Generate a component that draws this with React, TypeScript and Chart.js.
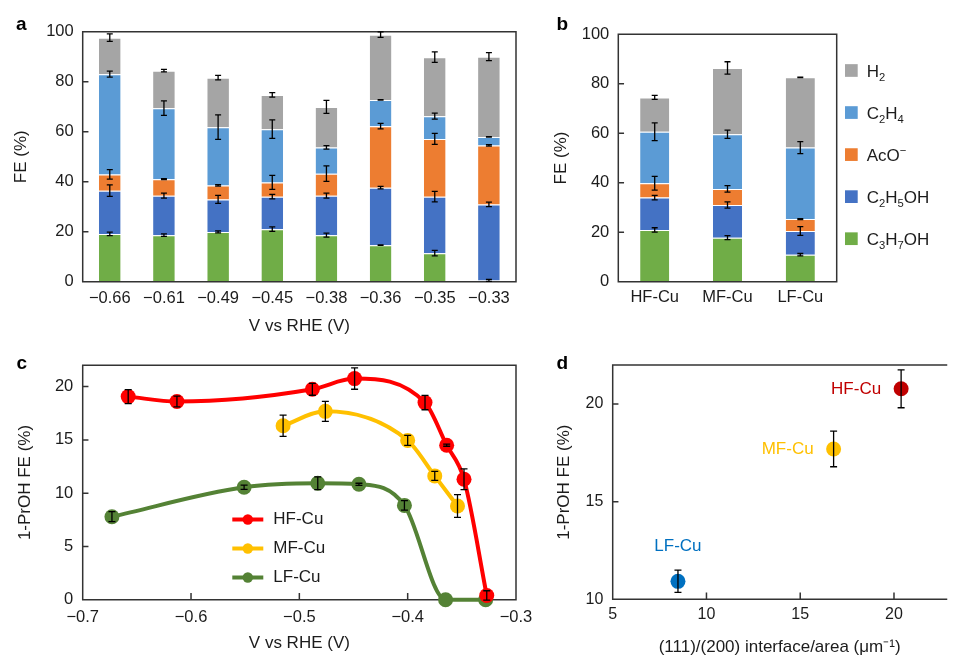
import React, { useEffect, useRef } from 'react';
import { Chart, registerables } from 'chart.js';

Chart.register(...registerables);

const FONT = '"Liberation Sans", Arial, Helvetica, sans-serif';
const INK = '#1c1c1c';
const AXIS = '#333333';
Chart.defaults.font.family = FONT;
Chart.defaults.color = INK;

// ---------------- Panel a : FE vs potential (stacked) ----------------
const potentialLabelsA = ['−0.66', '−0.61', '−0.49', '−0.45', '−0.38', '−0.36', '−0.35', '−0.33'];
const propanolA = [19.1, 18.6, 19.9, 21.0, 18.6, 14.6, 11.4, 0.5];
const ethanolA = [17.3, 15.8, 13.0, 13.0, 15.8, 23.0, 22.6, 30.4];
const acetateA = [6.5, 6.6, 5.6, 5.7, 8.8, 24.6, 23.1, 23.6];
const ethyleneA = [40.1, 28.4, 23.3, 21.3, 10.5, 10.5, 9.1, 3.4];
const hydrogenA = [14.6, 15.0, 19.8, 13.7, 16.2, 26.1, 23.6, 32.1];
const propanolErrA = [0.7, 0.5, 0.4, 0.9, 0.8, 0.1, 1.1, 0.4];
const ethanolErrA = [2.3, 1.0, 1.6, 0.9, 1.0, 0.5, 2.1, 0.9];
const acetateErrA = [1.9, 0.2, 0.3, 2.8, 3.1, 1.1, 2.2, 0.3];
const ethyleneErrA = [1.2, 2.9, 4.9, 3.7, 0.7, 0.1, 1.2, 0.1];
const hydrogenErrA = [1.5, 0.5, 0.9, 0.9, 2.6, 1.1, 2.1, 1.6];

// ---------------- Panel b : FE by catalyst (stacked) ----------------
const catalystLabelsB = ['HF-Cu', 'MF-Cu', 'LF-Cu'];
const propanolB = [20.9, 17.8, 10.9];
const ethanolB = [13.1, 13.2, 9.6];
const acetateB = [5.8, 6.5, 4.8];
const ethyleneB = [20.8, 22.1, 28.9];
const hydrogenB = [13.9, 26.8, 28.4];
const propanolErrB = [0.9, 0.8, 0.5];
const ethanolErrB = [0.9, 1.3, 1.8];
const acetateErrB = [2.8, 1.3, 0.2];
const ethyleneErrB = [3.6, 1.7, 2.4];
const hydrogenErrB = [0.8, 2.5, 0.1];

// products, bottom of stack first
const productNames = ['C3H7OH', 'C2H5OH', 'AcO-', 'C2H4', 'H2'];
const productColors = ['#70AD47', '#4472C4', '#ED7D31', '#5B9BD5', '#A5A5A5'];

// ---------------- Panel c : 1-PrOH FE vs potential ----------------
const seriesNamesC = ['HF-Cu', 'MF-Cu', 'LF-Cu'];
const seriesColorsC = ['#FF0000', '#FFC000', '#548235'];
const hfPotentialC = [-0.658, -0.613, -0.488, -0.449, -0.384, -0.364, -0.348, -0.327];
const hfPropanolC = [19.06, 18.6, 19.75, 20.75, 18.5, 14.5, 11.3, 0.4];
const hfErrC = [0.66, 0.5, 0.56, 1.0, 0.67, 0.1, 0.97, 0.44];
const mfPotentialC = [-0.515, -0.476, -0.4, -0.375, -0.354];
const mfPropanolC = [16.33, 17.68, 14.95, 11.62, 8.79];
const mfErrC = [1.0, 0.94, 0.47, 0.42, 1.07];
const lfPotentialC = [-0.673, -0.551, -0.483, -0.445, -0.403, -0.365, -0.328];
const lfPropanolC = [7.79, 10.55, 10.93, 10.83, 8.85, 0, 0];
const lfErrC = [0.47, 0.2, 0.6, 0.1, 0.44, 0, 0];
const propanolTicksC = [0, 5, 10, 15, 20];

// ---------------- Panel d : 1-PrOH FE vs interface density ----------------
const catalystNamesD = ['HF-Cu', 'MF-Cu', 'LF-Cu'];
const catalystColorsD = ['#C00000', '#FFC000', '#0070C0'];
const interfaceDensityD = [20.38, 16.78, 8.48];
const propanolD = [20.78, 17.7, 10.92];
const propanolErrD = [0.97, 0.91, 0.57];
const interfaceTicksD = [5, 10, 15, 20];
const propanolTicksD = [10, 15, 20];

// ---------------- helpers ----------------
function fixedSize(size: number, horizontal: boolean) {
  return (s: any) => {
    if (horizontal) s.height = size;
    else s.width = size;
    s.paddingLeft = 0;
    s.paddingRight = 0;
    s.paddingTop = 0;
    s.paddingBottom = 0;
  };
}

function fixedTicks(values: number[]) {
  return (s: any) => {
    s.ticks = values.map((v) => ({ value: v }));
  };
}

function errBar(ctx: CanvasRenderingContext2D, x: number, y1: number, y2: number, cap: number) {
  ctx.beginPath();
  ctx.moveTo(x, y1);
  ctx.lineTo(x, y2);
  ctx.moveTo(x - cap, y1);
  ctx.lineTo(x + cap, y1);
  ctx.moveTo(x - cap, y2);
  ctx.lineTo(x + cap, y2);
  ctx.stroke();
}

function drawStackErrors(chart: any, errs: number[][]) {
  const ctx = chart.ctx as CanvasRenderingContext2D;
  const ys = chart.scales.y;
  const ds = chart.data.datasets;
  ctx.save();
  ctx.strokeStyle = '#000';
  ctx.lineWidth = 1.3;
  ds.forEach((d: any, k: number) => {
    const meta = chart.getDatasetMeta(k);
    d.data.forEach((_v: number, i: number) => {
      const e = errs[k][i];
      if (!e) return;
      let cum = 0;
      for (let j = 0; j <= k; j++) cum += ds[j].data[i];
      const x = meta.data[i].x;
      errBar(ctx, x, ys.getPixelForValue(cum - e), ys.getPixelForValue(cum + e), 3);
    });
  });
  ctx.restore();
}

function drawPointErrors(chart: any, errs: number[][]) {
  const ctx = chart.ctx as CanvasRenderingContext2D;
  const ys = chart.scales.y;
  ctx.save();
  ctx.strokeStyle = '#000';
  ctx.lineWidth = 1.3;
  chart.data.datasets.forEach((d: any, k: number) => {
    const meta = chart.getDatasetMeta(k);
    d.data.forEach((p: any, i: number) => {
      const e = errs[k][i];
      if (!e) return;
      const x = meta.data[i].x;
      errBar(ctx, x, ys.getPixelForValue(p.y - e), ys.getPixelForValue(p.y + e), 3.5);
    });
  });
  ctx.restore();
}

// text with digits as subscripts and a trailing '-' as superscript minus
function richText(ctx: CanvasRenderingContext2D, text: string, x: number, baseline: number, size: number) {
  let cx = x;
  for (const ch of text) {
    let s = size;
    let dy = 0;
    let g = ch;
    if (/[0-9]/.test(ch)) {
      s = size * 0.66;
      dy = size * 0.24;
    } else if (ch === '-') {
      s = size * 0.66;
      dy = -size * 0.42;
      g = '−';
    }
    ctx.font = `${s}px ${FONT}`;
    ctx.fillText(g, cx, baseline + dy);
    cx += ctx.measureText(g).width;
  }
}

type Deco = {
  label: string;
  labelX: number;
  labelY: number;
  sides: [boolean, boolean, boolean, boolean]; // top right bottom left
  xTick: number;
  yTick: number;
  frameFirst: boolean;
  after?: (chart: any) => void;
};

function decoPlugin(d: Deco) {
  const frame = (chart: any) => {
    const { ctx, chartArea: a } = chart;
    ctx.save();
    ctx.strokeStyle = AXIS;
    ctx.lineWidth = 1.5;
    ctx.lineCap = 'square';
    ctx.beginPath();
    if (d.sides[0]) { ctx.moveTo(a.left, a.top); ctx.lineTo(a.right, a.top); }
    if (d.sides[1]) { ctx.moveTo(a.right, a.top); ctx.lineTo(a.right, a.bottom); }
    if (d.sides[2]) { ctx.moveTo(a.left, a.bottom); ctx.lineTo(a.right, a.bottom); }
    if (d.sides[3]) { ctx.moveTo(a.left, a.top); ctx.lineTo(a.left, a.bottom); }
    if (d.yTick) {
      chart.scales.y.ticks.forEach((t: any) => {
        const py = chart.scales.y.getPixelForValue(t.value);
        ctx.moveTo(a.left, py);
        ctx.lineTo(a.left + d.yTick, py);
      });
    }
    if (d.xTick) {
      chart.scales.x.ticks.forEach((t: any) => {
        const px = chart.scales.x.getPixelForValue(t.value);
        ctx.moveTo(px, a.bottom);
        ctx.lineTo(px, a.bottom - d.xTick);
      });
    }
    ctx.stroke();
    ctx.restore();
  };
  return {
    id: 'deco',
    beforeDatasetsDraw(chart: any) {
      if (d.frameFirst) frame(chart);
    },
    afterDatasetsDraw(chart: any) {
      if (!d.frameFirst) frame(chart);
      if (d.after) d.after(chart);
    },
    afterDraw(chart: any) {
      const ctx = chart.ctx as CanvasRenderingContext2D;
      ctx.save();
      ctx.fillStyle = '#000';
      ctx.font = `bold 19px ${FONT}`;
      ctx.textAlign = 'left';
      ctx.textBaseline = 'alphabetic';
      ctx.fillText(d.label, d.labelX, d.labelY);
      ctx.restore();
    },
  };
}

const TICK_FONT = { size: 16.5 };
const TITLE_FONT = { size: 17 };

function stackedConfig(
  labels: string[],
  series: number[][],
  errs: number[][],
  box: { top: number; right: number; yWidth: number; xHeight: number; xPad: number },
  xTitle: string | null,
  deco: Omit<Deco, 'after'>,
  extra?: (chart: any) => void
) {
  return {
    type: 'bar',
    data: {
      labels,
      datasets: series.map((s, k) => ({
        label: productNames[k],
        data: s,
        backgroundColor: productColors[k],
        borderColor: 'rgba(255,255,255,0.55)',
        borderWidth: { top: 1, left: 0, right: 0, bottom: 0 },
        borderSkipped: false,
        barPercentage: 0.4,
        categoryPercentage: 1,
      })),
    },
    options: {
      animation: false,
      responsive: false,
      devicePixelRatio: 1,
      layout: { padding: { left: 0, top: box.top, right: box.right, bottom: 0 } },
      plugins: { legend: { display: false }, tooltip: { enabled: false } },
      scales: {
        x: {
          stacked: true,
          grid: { display: false, drawTicks: false },
          border: { display: false },
          ticks: { font: TICK_FONT, color: INK, padding: box.xPad, maxRotation: 0, autoSkip: false },
          title: xTitle
            ? { display: true, text: xTitle, font: TITLE_FONT, color: INK, padding: { top: 0, bottom: 3.8 } }
            : { display: false },
          afterFit: fixedSize(box.xHeight, true),
        },
        y: {
          stacked: true,
          min: 0,
          max: 100,
          grid: { display: false, drawTicks: false },
          border: { display: false },
          ticks: { stepSize: 20, font: TICK_FONT, color: INK, padding: 9 },
          title: { display: true, text: 'FE (%)', font: TITLE_FONT, color: INK, padding: { top: 11.5, bottom: 0 } },
          afterFit: fixedSize(box.yWidth, false),
        },
      },
    },
    plugins: [
      decoPlugin({
        ...deco,
        after: (chart: any) => {
          drawStackErrors(chart, errs);
          if (extra) extra(chart);
        },
      }),
    ],
  };
}

function configA() {
  return stackedConfig(
    potentialLabelsA,
    [propanolA, ethanolA, acetateA, ethyleneA, hydrogenA],
    [propanolErrA, ethanolErrA, acetateErrA, ethyleneErrA, hydrogenErrA],
    { top: 31.7, right: 24, yWidth: 82.7, xHeight: 58.3, xPad: 6.7 },
    'V vs RHE (V)',
    { label: 'a', labelX: 16, labelY: 30, sides: [true, true, true, true], xTick: 0, yTick: 5, frameFirst: false }
  );
}

function configB() {
  const legend = (chart: any) => {
    const ctx = chart.ctx as CanvasRenderingContext2D;
    ctx.save();
    ctx.textAlign = 'left';
    ctx.textBaseline = 'alphabetic';
    const n = productNames.length;
    for (let r = 0; r < n; r++) {
      const k = n - 1 - r; // H2 on top
      const cy = 70.5 + r * 42.05;
      ctx.fillStyle = productColors[k];
      ctx.fillRect(305, cy - 6.35, 12.7, 12.7);
      ctx.fillStyle = INK;
      richText(ctx, productNames[k], 326.7, cy + 6.1, 17);
    }
    ctx.restore();
  };
  return stackedConfig(
    catalystLabelsB,
    [propanolB, ethanolB, acetateB, ethyleneB, hydrogenB],
    [propanolErrB, ethanolErrB, acetateErrB, ethyleneErrB, hydrogenErrB],
    { top: 34.3, right: 117.3, yWidth: 78.3, xHeight: 58.3, xPad: 6.1 },
    null,
    { label: 'b', labelX: 16.5, labelY: 30, sides: [true, true, true, true], xTick: 0, yTick: 5, frameFirst: false },
    legend
  );
}

function configC() {
  const xs = [hfPotentialC, mfPotentialC, lfPotentialC];
  const ys = [hfPropanolC, mfPropanolC, lfPropanolC];
  const errs = [hfErrC, mfErrC, lfErrC];
  const legend = (chart: any) => {
    const ctx = chart.ctx as CanvasRenderingContext2D;
    ctx.save();
    seriesNamesC.forEach((name, k) => {
      const cy = 179.5 + k * 29;
      ctx.strokeStyle = seriesColorsC[k];
      ctx.lineWidth = 4;
      ctx.beginPath();
      ctx.moveTo(232.3, cy);
      ctx.lineTo(263.3, cy);
      ctx.stroke();
      ctx.fillStyle = seriesColorsC[k];
      ctx.beginPath();
      ctx.arc(247.8, cy, 5.2, 0, Math.PI * 2);
      ctx.fill();
      ctx.fillStyle = INK;
      ctx.font = `17px ${FONT}`;
      ctx.textAlign = 'left';
      ctx.textBaseline = 'middle';
      ctx.fillText(name, 273.3, cy);
    });
    ctx.restore();
  };
  return {
    type: 'line',
    data: {
      datasets: seriesNamesC.map((name, k) => ({
        label: name,
        data: xs[k].map((x, i) => ({ x, y: ys[k][i] })),
        borderColor: seriesColorsC[k],
        backgroundColor: seriesColorsC[k],
        pointBackgroundColor: seriesColorsC[k],
        pointBorderWidth: 0,
        pointRadius: 7.5,
        borderWidth: 4,
        cubicInterpolationMode: 'monotone',
        fill: false,
        clip: false,
      })),
    },
    options: {
      animation: false,
      responsive: false,
      devicePixelRatio: 1,
      layout: { padding: { left: 0, top: 25.3, right: 24, bottom: 0 } },
      plugins: { legend: { display: false }, tooltip: { enabled: false } },
      scales: {
        x: {
          type: 'linear',
          min: -0.7,
          max: -0.3,
          grid: { display: false, drawTicks: false },
          border: { display: false },
          ticks: {
            stepSize: 0.1,
            font: TICK_FONT,
            color: INK,
            padding: 7.7,
            maxRotation: 0,
            callback: (v: any) => Number(v).toFixed(1).replace('-', '−'),
          },
          title: { display: true, text: 'V vs RHE (V)', font: TITLE_FONT, color: INK, padding: { top: 0, bottom: 4.5 } },
          afterFit: fixedSize(58.3, true),
        },
        y: {
          min: 0,
          max: 22,
          grid: { display: false, drawTicks: false },
          border: { display: false },
          afterBuildTicks: fixedTicks(propanolTicksC),
          ticks: { font: TICK_FONT, color: INK, padding: 9.4 },
          title: { display: true, text: '1-PrOH FE (%)', font: TITLE_FONT, color: INK, padding: { top: 15.5, bottom: 0 } },
          afterFit: fixedSize(82.7, false),
        },
      },
    },
    plugins: [
      decoPlugin({
        label: 'c',
        labelX: 16.5,
        labelY: 29.3,
        sides: [true, true, true, true],
        xTick: 6,
        yTick: 5,
        frameFirst: true,
        after: (chart: any) => {
          drawPointErrors(chart, errs);
          legend(chart);
        },
      }),
    ],
  };
}

function configD() {
  const annotate = (chart: any) => {
    const ctx = chart.ctx as CanvasRenderingContext2D;
    ctx.save();
    ctx.font = `17px ${FONT}`;
    ctx.textBaseline = 'middle';
    catalystNamesD.forEach((name, k) => {
      const el = chart.getDatasetMeta(k).data[0];
      ctx.fillStyle = catalystColorsD[k];
      if (name === 'LF-Cu') {
        ctx.textAlign = 'center';
        ctx.fillText(name, el.x, el.y - 34.6);
      } else {
        ctx.textAlign = 'right';
        ctx.fillText(name, el.x - 20, el.y);
      }
    });
    ctx.restore();
  };
  return {
    type: 'scatter',
    data: {
      datasets: catalystNamesD.map((name, k) => ({
        label: name,
        data: [{ x: interfaceDensityD[k], y: propanolD[k] }],
        backgroundColor: catalystColorsD[k],
        pointBackgroundColor: catalystColorsD[k],
        pointBorderWidth: 0,
        pointRadius: 7.5,
        clip: false,
      })),
    },
    options: {
      animation: false,
      responsive: false,
      devicePixelRatio: 1,
      layout: { padding: { left: 0, top: 25, right: 0, bottom: 0 } },
      plugins: { legend: { display: false }, tooltip: { enabled: false } },
      scales: {
        x: {
          type: 'linear',
          min: 5,
          max: 22.8,
          grid: { display: false, drawTicks: false },
          border: { display: false },
          afterBuildTicks: fixedTicks(interfaceTicksD),
          ticks: { font: { size: 16 }, color: INK, padding: 6, maxRotation: 0 },
          title: {
            display: true,
            text: '(111)/(200) interface/area (μm⁻¹)',
            font: TITLE_FONT,
            color: INK,
            padding: { top: 0, bottom: 0 },
          },
          afterFit: fixedSize(58.7, true),
        },
        y: {
          min: 10,
          max: 22,
          grid: { display: false, drawTicks: false },
          border: { display: false },
          afterBuildTicks: fixedTicks(propanolTicksD),
          ticks: { font: { size: 16 }, color: INK, padding: 9.4 },
          title: { display: true, text: '1-PrOH FE (%)', font: TITLE_FONT, color: INK, padding: { top: 13.8, bottom: 0 } },
          afterFit: fixedSize(72.7, false),
        },
      },
    },
    plugins: [
      decoPlugin({
        label: 'd',
        labelX: 16.5,
        labelY: 29.3,
        sides: [true, false, true, true],
        xTick: 6,
        yTick: 5,
        frameFirst: true,
        after: (chart: any) => {
          drawPointErrors(
            chart,
            propanolErrD.map((e) => [e])
          );
          annotate(chart);
        },
      }),
    ],
  };
}

function Panel(props: { left: number; top: number; width: number; height: number; build: () => any }) {
  const ref = useRef<HTMLCanvasElement>(null);
  useEffect(() => {
    const chart = new Chart(ref.current as HTMLCanvasElement, props.build());
    return () => chart.destroy();
  }, []);
  return (
    <canvas
      ref={ref}
      width={props.width}
      height={props.height}
      style={{ position: 'absolute', left: props.left, top: props.top, width: props.width, height: props.height }}
    />
  );
}

export default function App() {
  return (
    <div
      style={{
        position: 'absolute',
        left: 0,
        top: 0,
        width: 954,
        height: 658,
        overflow: 'hidden',
        background: '#ffffff',
      }}
    >
      <Panel left={0} top={0} width={540} height={340} build={configA} />
      <Panel left={540} top={0} width={414} height={340} build={configB} />
      <Panel left={0} top={340} width={540} height={318} build={configC} />
      <Panel left={540} top={340} width={414} height={318} build={configD} />
    </div>
  );
}
